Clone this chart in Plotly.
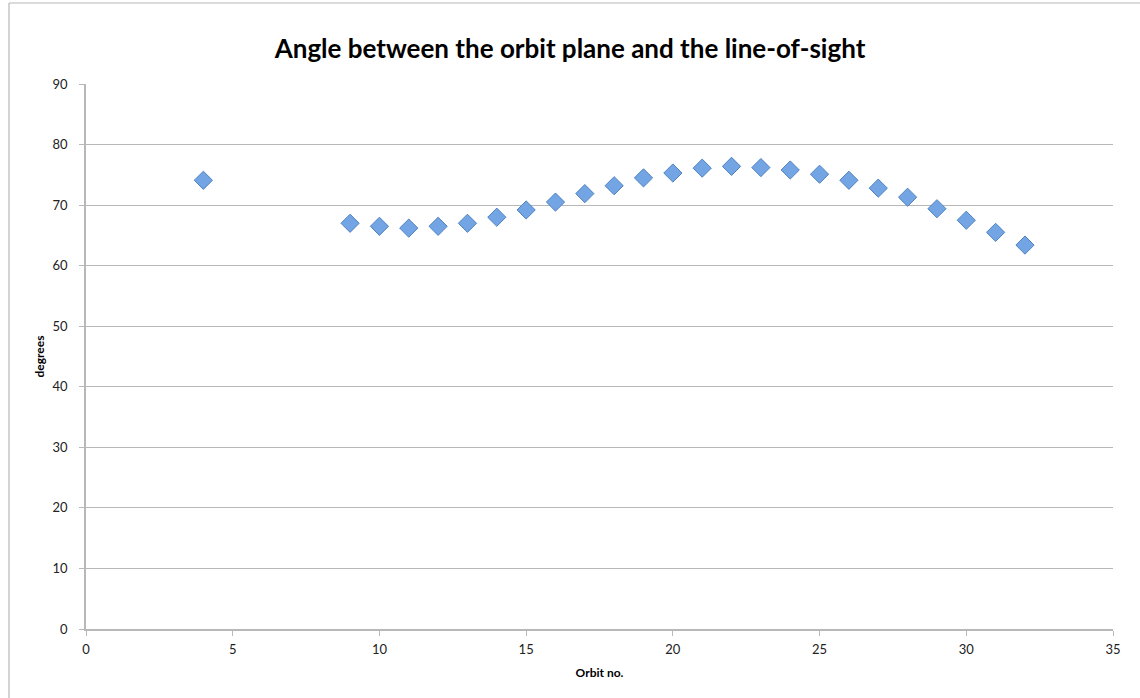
import plotly.graph_objects as go

orbit_no = [4, 9, 10, 11, 12, 13, 14, 15, 16, 17, 18, 19, 20, 21, 22, 23, 24, 25, 26, 27, 28, 29, 30, 31, 32]
angle_deg = [74.1, 67.0, 66.5, 66.2, 66.5, 67.0, 68.0, 69.2, 70.5, 71.9, 73.2, 74.5, 75.3, 76.1, 76.4, 76.2, 75.8, 75.1, 74.1, 72.8, 71.3, 69.4, 67.5, 65.5, 63.4]

title_text = "Angle between the orbit plane and the line-of-sight"
x_title = "Orbit no."
y_title = "degrees"

font_family = "Lato, 'Open Sans', 'DejaVu Sans', sans-serif"

fig = go.Figure()
fig.add_trace(go.Scatter(
    x=orbit_no, y=angle_deg, mode="markers",
    marker=dict(symbol="diamond", size=14, color="#73a5e4",
                line=dict(color="#4f82c0", width=1)),
    showlegend=False, hoverinfo="x+y",
))

fig.update_layout(
    width=1140, height=698,
    margin=dict(l=86, r=27, t=84, b=69),
    paper_bgcolor="white", plot_bgcolor="white",
    font=dict(family=font_family, color="#222222", size=13),
    title=dict(text="<b>" + title_text + "</b>", x=0.5, xanchor="center",
               y=1 - 49 / 698, yanchor="middle",
               font=dict(family=font_family, size=26, color="#000000")),
    xaxis=dict(
        range=[0, 35], tickmode="linear", tick0=0, dtick=5,
        showgrid=False, zeroline=False,
        showline=True, linecolor="#b8b8b8", linewidth=1.5,
        ticks="outside", ticklen=5, tickcolor="#b8b8b8",
        ticklabelstandoff=3,
        tickfont=dict(size=13, color="#222222"),
        title=dict(text="<b>" + x_title + "</b>", font=dict(size=12, color="#000000"), standoff=12),
    ),
    yaxis=dict(
        range=[0, 90], tickmode="linear", tick0=0, dtick=10,
        showgrid=True, gridcolor="#b8b8b8", gridwidth=1.2, zeroline=False,
        showline=True, linecolor="#b8b8b8", linewidth=1.5,
        ticks="outside", ticklen=5, tickcolor="#b8b8b8",
        ticklabelstandoff=9,
        tickfont=dict(size=13, color="#222222"),
        title=dict(text="<b>" + y_title + "</b>", font=dict(size=12, color="#000000"), standoff=5),
    ),
    shapes=[
        dict(type="line", xref="paper", yref="paper",
             x0=(9 - 86) / 1027, x1=(9 - 86) / 1027, y0=(629 - 3) / 545, y1=-(698 - 629) / 545 - 0.01,
             line=dict(color="#b8b8b8", width=1.2)),
        dict(type="line", xref="paper", yref="paper",
             x0=(9 - 86) / 1027, x1=(1140 - 86) / 1027 + 0.01, y0=(629 - 3) / 545, y1=(629 - 3) / 545,
             line=dict(color="#b8b8b8", width=1.2)),
    ],
)

fig.write_html("out.html")
